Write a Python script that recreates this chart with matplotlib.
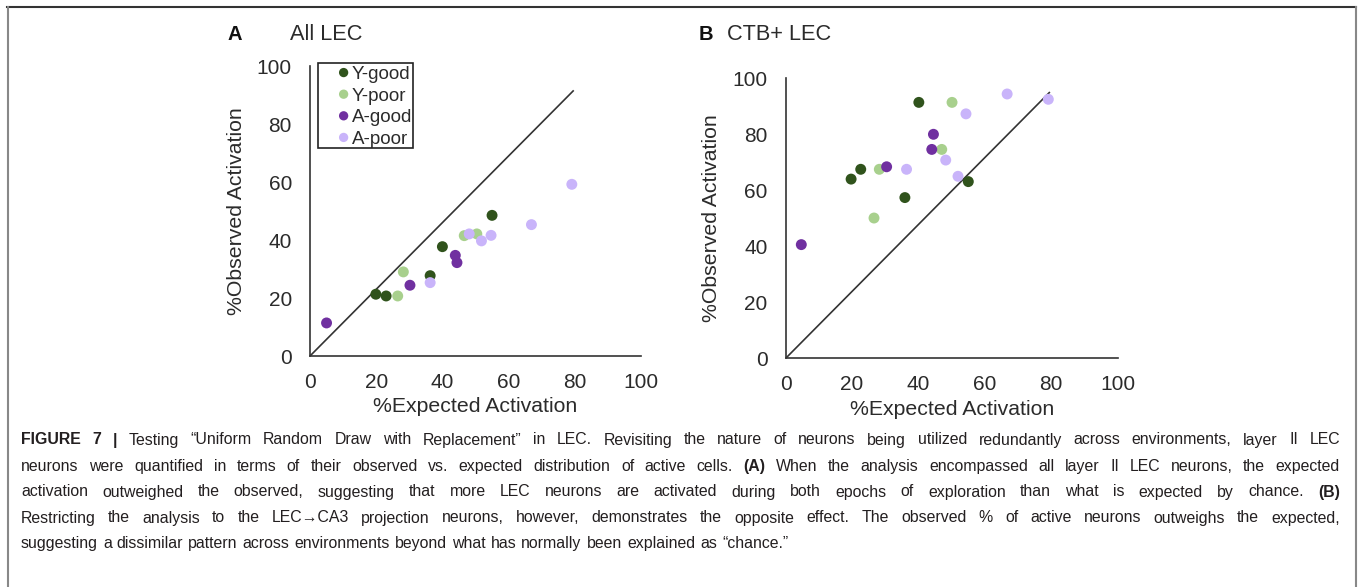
import numpy as np
import matplotlib
matplotlib.use("Agg")
import matplotlib.pyplot as plt
from matplotlib.lines import Line2D
from matplotlib.patches import Rectangle

plt.rcParams["font.family"] = ["Liberation Sans", "DejaVu Sans"]

groups = ["Y-good", "Y-poor", "A-good", "A-poor"]
colors = ["#30531c", "#a8d08d", "#7030a0", "#c9b4fa"]

# panel A - all LEC (expected %, observed %)
a_x = {
    "Y-good": [19.9, 23.0, 36.3, 40.0, 55.0],
    "Y-poor": [26.5, 28.2, 46.6, 50.4],
    "A-good": [5.0, 30.2, 43.9, 44.4],
    "A-poor": [36.3, 48.1, 51.8, 54.7, 66.9, 79.1],
}
a_y = {
    "Y-good": [21.3, 20.7, 27.7, 37.7, 48.5],
    "Y-poor": [20.7, 29.0, 41.5, 42.1],
    "A-good": [11.4, 24.4, 34.7, 32.2],
    "A-poor": [25.3, 42.1, 39.7, 41.6, 45.3, 59.2],
}
# panel B - CTB+ LEC
b_x = {
    "Y-good": [19.7, 22.6, 35.9, 40.1, 55.0],
    "Y-poor": [26.6, 28.2, 47.0, 50.1],
    "A-good": [4.7, 30.4, 44.5, 44.0],
    "A-poor": [36.4, 48.2, 51.9, 54.3, 66.7, 79.1],
}
b_y = {
    "Y-good": [64.0, 67.5, 57.4, 91.4, 63.1],
    "Y-poor": [50.1, 67.5, 74.6, 91.4],
    "A-good": [40.6, 68.4, 80.0, 74.6],
    "A-poor": [67.5, 70.8, 65.0, 87.3, 94.4, 92.5],
}
# reference lines drawn on the charts
a_line_x = [0, 79.5]
a_line_y = [0, 91.4]
b_line_x = [0, 79.4]
b_line_y = [0, 94.9]

ticks = [0, 20, 40, 60, 80, 100]

caption = [
    "**FIGURE **7 **| Testing “Uniform Random Draw with Replacement” in LEC. Revisiting the nature of neurons being utilized redundantly across environments, layer II LEC",
    "neurons were quantified in terms of their observed vs. expected distribution of active cells. **(A) When the analysis encompassed all layer II LEC neurons, the expected",
    "activation outweighed the observed, suggesting that more LEC neurons are activated during both epochs of exploration than what is expected by chance. **(B)",
    "Restricting the analysis to the LEC→CA3 projection neurons, however, demonstrates the opposite effect. The observed % of active neurons outweighs the expected,",
    "suggesting a dissimilar pattern across environments beyond what has normally been explained as “chance.”",
]

W, H = 1360, 587
fig = plt.figure(figsize=(W / 100, H / 100), dpi=100)
txt = "#2b2b2b"


def setup(ax, xs, ys, lx, ly):
    ax.plot(lx, ly, color="#333333", lw=1.2, zorder=1)
    for g, c in zip(groups, colors):
        ax.scatter(xs[g], ys[g], s=62, color=c, edgecolors="none", label=g, zorder=3)
    ax.set_xlim(0, 100)
    ax.set_ylim(0, 100)
    ax.set_xticks(ticks)
    ax.set_yticks(ticks)
    for s in ["top", "right"]:
        ax.spines[s].set_visible(False)
    for s in ["left", "bottom"]:
        ax.spines[s].set_color("#333333")
        ax.spines[s].set_linewidth(1.2)
    ax.tick_params(length=0, labelsize=15, colors=txt)
    ax.tick_params(axis="y", pad=13)
    ax.tick_params(axis="x", pad=12)
    ax.set_xlabel("%Expected Activation", fontsize=15.3, color=txt, labelpad=4)
    ax.set_ylabel("%Observed Activation", fontsize=15.3, color=txt, labelpad=8)


axA = fig.add_axes([310 / W, 1 - 356 / H, 331 / W, 290 / H])
setup(axA, a_x, a_y, a_line_x, a_line_y)
# legend box drawn by hand, entries placed inside it
axA.add_patch(Rectangle(((318 - 310) / 331, (356 - 148) / 290), 95 / 331, 85 / 290,
                        transform=axA.transAxes, fill=False, edgecolor="#222222",
                        lw=1.2, clip_on=False, zorder=4))
leg = axA.legend(loc="upper left", bbox_to_anchor=((338 - 310) / 331, (356 - 66) / 290),
                 fontsize=13.5, frameon=False, borderaxespad=0, borderpad=0,
                 markerscale=0.85, handlelength=0.6, handletextpad=0.12,
                 labelspacing=0.24, scatteryoffsets=[0.5])
for t in leg.get_texts():
    t.set_color(txt)

axB = fig.add_axes([785.7 / W, 1 - 358.3 / H, 332 / W, 280 / H])
setup(axB, b_x, b_y, b_line_x, b_line_y)

fig.text(228 / W, 1 - 35 / H, "A", fontsize=14.5, fontweight="bold", color="#111111", va="center")
fig.text(290 / W, 1 - 34 / H, "All LEC", fontsize=15.7, color=txt, va="center")
fig.text(699 / W, 1 - 35 / H, "B", fontsize=14.5, fontweight="bold", color="#111111", va="center")
fig.text(727 / W, 1 - 34 / H, "CTB+ LEC", fontsize=15.7, color=txt, va="center")

# frame around the figure
fig.add_artist(Line2D([7 / W, 1356 / W], [1 - 7 / H, 1 - 7 / H], color="#333333", lw=1.5))
fig.add_artist(Line2D([7.5 / W, 7.5 / W], [0, 1 - 7 / H], color="#888888", lw=1.5))
fig.add_artist(Line2D([1356 / W, 1356 / W], [0, 1 - 7 / H], color="#888888", lw=1.5))

# caption, justified word by word
renderer = fig.canvas.get_renderer()
x0, x1 = 21, 1340
line_y = [440, 466.5, 492, 518, 543.5]
cap_size = 11.4


def measure(s, bold):
    t = fig.text(0, 0, s, fontsize=cap_size, fontweight="bold" if bold else "normal")
    w = t.get_window_extent(renderer).width
    t.remove()
    return w


space_w = measure("a a", False) - measure("aa", False)
for i, line in enumerate(caption):
    words = []
    for part in line.split(" "):
        bold = part.startswith("**")
        words.append((part.replace("**", ""), bold))
    widths = [measure(w, b) for w, b in words]
    if i < len(caption) - 1:
        gap = (x1 - x0 - sum(widths)) / (len(words) - 1)
    else:
        gap = space_w + 0.6
    x = x0
    for (w, b), wd in zip(words, widths):
        fig.text(x / W, 1 - line_y[i] / H, w, fontsize=cap_size,
                 fontweight="bold" if b else "normal", color="#231f20", va="center")
        x += wd + gap

fig.savefig("out.png", dpi=100)
